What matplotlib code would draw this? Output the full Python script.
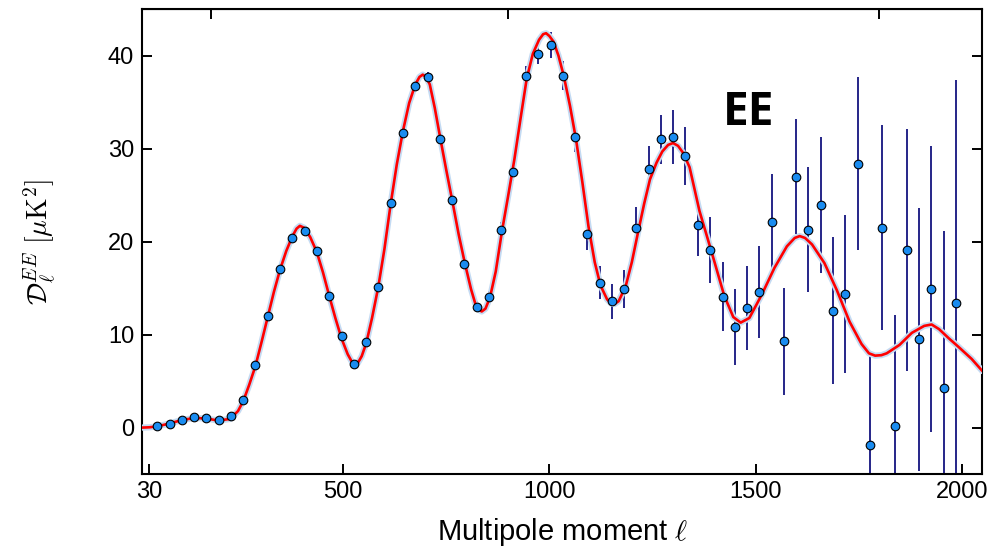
import matplotlib

matplotlib.use('Agg')

import matplotlib.pyplot as plt

plt.rcParams['font.family'] = ['Liberation Sans', 'DejaVu Sans']
plt.rcParams['mathtext.fontset'] = 'cm'

# binned EE band powers
ell = [49, 79, 109, 138, 168, 198, 228, 258, 287, 317,
       347, 377, 407, 436, 466, 496, 526, 556, 585, 615,
       645, 675, 705, 734, 764, 794, 824, 854, 883, 913,
       943, 973, 1003, 1032, 1062, 1092, 1122, 1152, 1181, 1211,
       1241, 1271, 1301, 1330, 1360, 1390, 1420, 1450, 1479, 1509,
       1539, 1569, 1599, 1628, 1658, 1688, 1718, 1748, 1777, 1807,
       1837, 1867, 1897, 1926, 1956, 1986]
dl_ee = [0.14, 0.43, 0.86, 1.11, 1.0, 0.79, 1.22, 3.0, 6.7, 12.0,
         17.1, 20.4, 21.2, 19.0, 14.2, 9.9, 6.85, 9.2, 15.1, 24.2,
         31.7, 36.7, 37.7, 31.0, 24.5, 17.6, 13.0, 14.05, 21.3, 27.5,
         37.85, 40.2, 41.1, 37.85, 31.2, 20.8, 15.6, 13.6, 14.9, 21.5,
         27.8, 31.0, 31.2, 29.2, 21.75, 19.1, 14.1, 10.8, 12.9, 14.6,
         22.1, 9.3, 27.0, 21.3, 23.9, 12.6, 14.4, 28.4, -1.9, 21.5,
         0.2, 19.1, 9.5, 14.9, 4.3, 13.4]
dl_err = [0.1, 0.1, 0.1, 0.1, 0.1, 0.1, 0.1, 0.15, 0.2, 0.25,
          0.3, 0.3, 0.35, 0.35, 0.35, 0.35, 0.35, 0.4, 0.4, 0.45,
          0.5, 0.5, 0.55, 0.6, 0.55, 0.55, 0.6, 0.65, 0.85, 1.0,
          1.05, 1.15, 1.4, 1.55, 1.6, 1.65, 1.75, 1.9, 2.05, 2.25,
          2.5, 2.6, 2.9, 3.1, 3.3, 3.5, 3.75, 4.1, 4.5, 4.9,
          5.2, 5.75, 6.2, 6.75, 7.3, 7.9, 8.5, 9.3, 10.0, 11.0,
          11.9, 13.0, 14.1, 15.4, 16.8, 24.0]

# best-fit model curve
model_ell = [13, 30, 49, 78, 108, 138, 167, 197, 226, 245,
             258, 272, 287, 302, 317, 332, 347, 362, 377, 387,
             395, 405, 420, 436, 451, 466, 481, 496, 511, 521,
             528, 536, 545, 556, 570, 585, 600, 615, 630, 645,
             660, 675, 685, 693, 701, 710, 722, 736, 750, 765,
             780, 795, 810, 820, 828, 836, 845, 856, 870, 885,
             900, 915, 930, 945, 960, 975, 985, 992, 1000, 1010,
             1022, 1035, 1050, 1065, 1080, 1095, 1110, 1124, 1140, 1150,
             1158, 1168, 1185, 1200, 1215, 1230, 1244, 1260, 1274, 1288,
             1300, 1312, 1325, 1340, 1364, 1394, 1424, 1446, 1464, 1485,
             1515, 1546, 1576, 1595, 1607, 1620, 1637, 1667, 1697, 1728,
             1757, 1775, 1790, 1805, 1818, 1849, 1879, 1909, 1927, 1945,
             1969, 1992, 2024, 2050]
model_dl = [0.02, 0.05, 0.15, 0.45, 0.82, 1.05, 1.0, 0.78, 0.95, 1.8,
            2.9, 4.6, 6.6, 9.2, 11.9, 14.6, 17.0, 19.0, 20.6, 21.4,
            21.7, 21.5, 20.5, 18.9, 16.7, 14.2, 11.8, 9.6, 7.9, 7.1,
            6.85, 7.0, 7.7, 9.1, 11.8, 15.1, 19.2, 24.0, 28.3, 31.9,
            34.9, 36.9, 37.7, 37.95, 37.7, 36.9, 34.4, 31.0, 27.7, 24.3,
            20.8, 17.7, 14.9, 13.4, 12.7, 12.5, 12.8, 14.0, 16.8, 21.1,
            24.9, 28.8, 33.2, 37.5, 40.2, 41.7, 42.3, 42.4, 42.1, 41.5,
            40.0, 37.8, 34.6, 30.9, 26.4, 21.6, 17.8, 15.3, 13.8, 13.35,
            13.3, 13.6, 15.2, 17.8, 21.0, 24.1, 26.7, 28.5, 29.7, 30.4,
            30.6, 30.3, 29.5, 28.0, 23.3, 18.8, 14.2, 11.9, 11.3, 11.8,
            14.3, 17.2, 19.5, 20.4, 20.6, 20.4, 19.7, 17.7, 14.8, 11.4,
            9.0, 8.0, 7.75, 7.8, 8.0, 8.9, 10.2, 10.95, 11.1, 10.6,
            9.6, 8.7, 7.4, 6.1]

top_ticks = [180, 900, 1800]  # 1 deg, 0.2 deg, 0.1 deg

fig = plt.figure(figsize=(10.06, 5.48), dpi=100)
ax = fig.add_axes([0.1415, 0.1345, 0.835, 0.849])

# error bars, then model, then markers on top
ax.errorbar(ell, dl_ee, yerr=dl_err, fmt='none', ecolor='#14147f',
            elinewidth=1.3, capsize=0, zorder=2)
ax.plot(model_ell, model_dl, '-', color='#c4dbf3', lw=4.5, zorder=3,
        solid_capstyle='round')
ax.plot(model_ell, model_dl, '-', color='#ff0000', lw=1.9, zorder=4)
ax.plot(ell, dl_ee, 'o', ms=6.2, mfc='#1a8cf0', mec='black', mew=0.8,
        zorder=5)

ax.text(1482, 32.5, 'EE', fontsize=33, fontweight='bold',
        family=['Open Sans', 'DejaVu Sans'], ha='center', va='baseline')

ax.set_xlim(13, 2050)
ax.set_ylim(-5, 45)
ax.set_xticks([30, 500, 1000, 1500, 2000])
ax.set_yticks([0, 10, 20, 30, 40])

for side in ['left', 'right', 'top', 'bottom']:
    ax.spines[side].set_linewidth(1.5)

ax.tick_params(axis='both', direction='in', length=7, width=1.4,
               labelsize=17)
ax.tick_params(axis='y', right=True, pad=6)
ax.tick_params(axis='x', pad=5)

sec = ax.secondary_xaxis('top')
sec.set_xticks(top_ticks)
sec.set_xticklabels([])
sec.tick_params(direction='in', length=7, width=1.4)

ax.set_xlabel(r'Multipole moment $\ell$', fontsize=21, labelpad=9)
ax.set_ylabel(r'$\mathcal{D}_\ell^{EE}\ [\mu\mathrm{K}^2]$', fontsize=20,
              labelpad=36)

plt.savefig('out.png', dpi=100)
plt.close('all')
